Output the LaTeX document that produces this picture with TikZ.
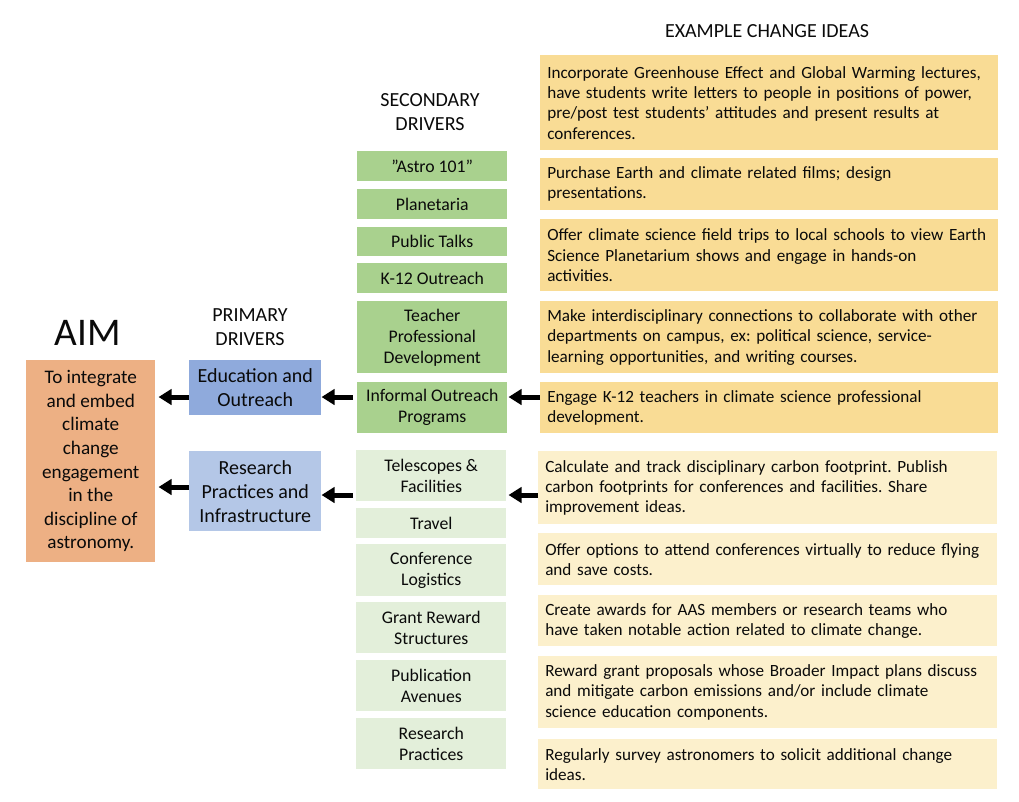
\documentclass[tikz,border=0pt]{standalone}
\usepackage{fontspec}
\setmainfont{Carlito}
\usepackage{tikz}
\usetikzlibrary{arrows.meta}
\frenchspacing
\definecolor{aimor}{HTML}{EDB084}
\definecolor{edublue}{HTML}{8FAADC}
\definecolor{resblue}{HTML}{B4C7E7}
\definecolor{secgreen}{HTML}{A9D18E}
\definecolor{secpale}{HTML}{E3EFDA}
\definecolor{ideagold}{HTML}{F9DC95}
\definecolor{ideapale}{HTML}{FCF0CC}
\definecolor{ink}{HTML}{0A0A0A}
\newdimen\px \px=0.75pt
\tikzset{fig/.style={x=\px,y=-\px,line join=round},
  box/.style={anchor=north west,inner sep=0pt,text=ink,align=center},
  hd/.style={text=ink,align=center,font=\fontsize{15}{18}\selectfont},
  aimbox/.style={box,fill=aimor,font=\fontsize{14.4}{17.7}\selectfont},
  pribox/.style={box,font=\fontsize{15}{18}\selectfont},
  secbox/.style={box,minimum width=150\px,font=\fontsize{13.3}{15.75}\selectfont},
  ideabox/.style={box,align=left,font=\fontsize{12.85}{15.2}\selectfont},
  fat/.style={line width=3.75pt,-{Triangle[length=9.75pt,width=11.5pt]}}}

\begin{document}
\begin{tikzpicture}[fig]
  \useasboundingbox (0,0) rectangle (1019,801);
  % headings
  \node[hd,font=\fontsize{29.4}{30}\selectfont] (aimhd) at (88,333) {AIM};
  \node[hd] (prihd) at (250,327) {PRIMARY\\DRIVERS};
  \node[hd] (sechd) at (430,112) {SECONDARY\\DRIVERS};
  \node[hd] (ideahd) at (767,31) {EXAMPLE CHANGE IDEAS};
  % aim and primary drivers
  \node[aimbox,minimum width=129\px,minimum height=202\px] (aim) at (26,360)
    {To integrate\\and embed\\climate\\change\\engagement\\in the\\discipline of\\astronomy.};
  \node[pribox,fill=edublue,minimum width=132\px,minimum height=55\px] (edu) at (189,360) {Education and\\Outreach};
  \node[pribox,fill=resblue,minimum width=132\px,minimum height=80\px] (res) at (189,451) {Research\\Practices and\\Infrastructure};
  % secondary drivers
  \node[secbox,fill=secgreen,minimum height=30\px] (astro) at (357,151) {”Astro 101”};
  \node[secbox,fill=secgreen,minimum height=30\px] (plan) at (357,189) {Planetaria};
  \node[secbox,fill=secgreen,minimum height=29\px] (talks) at (357,227) {Public Talks};
  \node[secbox,fill=secgreen,minimum height=30\px] (ktw) at (357,263) {K-12 Outreach};
  \node[secbox,fill=secgreen,minimum height=72\px] (teach) at (357,301) {Teacher\\Professional\\Development};
  \node[secbox,fill=secgreen,minimum height=51\px] (informal) at (357,382) {Informal Outreach\\Programs};
  \node[secbox,fill=secpale,minimum height=51\px] (tele) at (356,450) {Telescopes \&\\Facilities};
  \node[secbox,fill=secpale,minimum height=30\px] (travel) at (356,508) {Travel};
  \node[secbox,fill=secpale,minimum height=52\px] (conf) at (356,544) {Conference\\Logistics};
  \node[secbox,fill=secpale,minimum height=51\px] (grant) at (356,602) {Grant Reward\\Structures};
  \node[secbox,fill=secpale,minimum height=51\px] (pubs) at (356,660) {Publication\\Avenues};
  \node[secbox,fill=secpale,minimum height=51\px] (respr) at (356,718) {Research\\Practices};
  % change ideas
  \begin{scope}[every node/.append style={ideabox,fill=ideagold,minimum width=458\px,text width=444\px}]
  \node[minimum height=95\px] (idea1) at (540,55) {Incorporate Greenhouse Effect and Global Warming lectures,\\have students write letters to people in positions of power,\\pre/post test students’ attitudes and present results at\\conferences.};
  \node[minimum height=52\px] (idea2) at (540,158) {Purchase Earth and climate related films; design\\presentations.};
  \node[minimum height=72\px] (idea3) at (540,219) {Offer climate science field trips to local schools to view Earth\\Science Planetarium shows and engage in hands-on\\activities.};
  \node[minimum height=72\px] (idea4) at (540,301) {Make interdisciplinary connections to collaborate with other\\departments on campus, ex: political science, service-\\learning opportunities, and writing courses.};
  \node[minimum height=51\px] (idea5) at (540,382) {Engage K-12 teachers in climate science professional\\development.};
  \end{scope}
  \begin{scope}[every node/.append style={ideabox,fill=ideapale,minimum width=459\px,text width=445\px}]
  \node[minimum height=73\px] (idea6) at (538,451) {Calculate and track disciplinary carbon footprint. Publish\\carbon footprints for conferences and facilities. Share\\improvement ideas.};
  \node[minimum height=52\px] (idea7) at (538,533) {Offer options to attend conferences virtually to reduce flying\\and save costs.};
  \node[minimum height=51\px] (idea8) at (538,595) {Create awards for AAS members or research teams who\\have taken notable action related to climate change.};
  \node[minimum height=72\px] (idea9) at (538,656) {Reward grant proposals whose Broader Impact plans discuss\\and mitigate carbon emissions and/or include climate\\science education components.};
  \node[minimum height=50\px] (idea10) at (538,739) {Regularly survey astronomers to solicit additional change\\ideas.};
  \end{scope}
  % arrows
  \coordinate (uprow) at (0,397); \coordinate (lorow) at (0,495); \coordinate (aimrow) at (0,487);
  \draw[fat,shorten >=0.75pt] (idea5.west |- uprow) -- (informal.east |- uprow);
  \draw[fat,shorten <=3pt] (informal.west |- uprow) -- (edu.east |- uprow);
  \draw[fat,shorten >=2.25pt] (edu.west |- uprow) -- (aim.east |- uprow);
  \draw[fat,shorten >=1.5pt] (idea6.west |- lorow) -- (tele.east |- lorow);
  \draw[fat,shorten <=2.25pt] (tele.west |- lorow) -- (res.east |- lorow);
  \draw[fat,shorten >=2.25pt] (res.west |- aimrow) -- (aim.east |- aimrow);
\end{tikzpicture}
\end{document}
